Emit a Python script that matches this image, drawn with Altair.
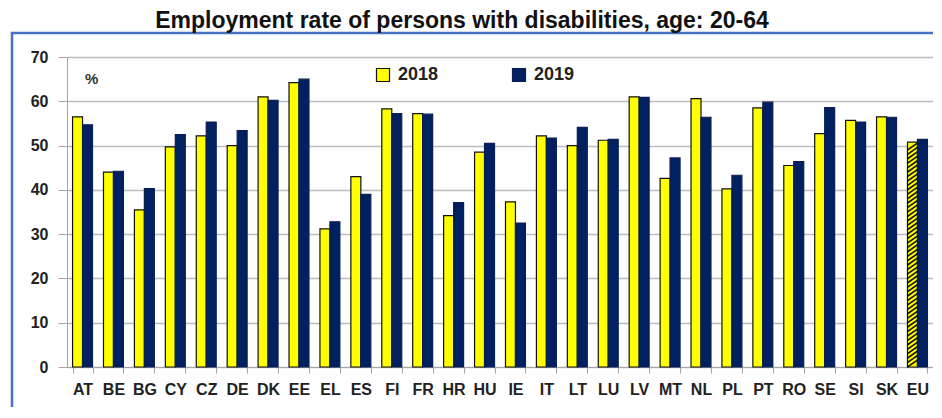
import altair as alt
import pandas as pd
import numpy as np

countries = ["AT", "BE", "BG", "CY", "CZ", "DE", "DK", "EE", "EL", "ES", "FI", "FR", "HR", "HU",
             "IE", "IT", "LT", "LU", "LV", "MT", "NL", "PL", "PT", "RO", "SE", "SI", "SK", "EU"]
v2018 = [56.5, 44.0, 35.5, 49.7, 52.2, 50.0, 61.0, 64.2, 31.2, 43.0, 58.3, 57.2, 34.2, 48.5,
         37.3, 52.2, 50.0, 51.2, 61.0, 42.6, 60.6, 40.2, 58.5, 45.5, 52.7, 55.7, 56.5, 50.8]
v2019 = [54.7, 44.2, 40.3, 52.5, 55.3, 53.4, 60.2, 65.0, 32.8, 39.0, 57.2, 57.1, 37.1, 50.5,
         32.5, 51.7, 54.1, 51.4, 60.9, 47.2, 56.4, 43.3, 59.8, 46.4, 58.6, 55.3, 56.4, 51.4]
years = ["2018", "2019"]
title_text = "Employment rate of persons with disabilities, age: 20-64"

rows = []
for c, a, b in zip(countries, v2018, v2019):
    rows.append({"Country": c, "Year": "2018", "Value": a})
    rows.append({"Country": c, "Year": "2019", "Value": b})
df = pd.DataFrame(rows)

# hatch strokes for the EU 2018 bar
eu18 = v2018[countries.index("EU")]
hatch = pd.DataFrame({"Country": "EU", "Year": "2018", "Value": np.arange(0.8, eu18 - 0.4, 1.0)})

W, H = 866, 310
FONT = "Liberation Sans"

x_enc = alt.X("Country:N", sort=countries,
              scale=alt.Scale(paddingInner=0.355, paddingOuter=0.18),
              axis=alt.Axis(title=None, labelAngle=0, tickBand="extent", tickSize=6,
                            tickColor="#a6a6a6", domainColor="#a6a6a6", labelFontSize=16,
                            labelFontWeight="bold", labelColor="#222222", labelPadding=8,
                            labelFont=FONT, grid=False))
xo_enc = alt.XOffset("Year:N", sort=years)
y_enc = alt.Y("Value:Q", scale=alt.Scale(domain=[0, 70], nice=False),
              axis=alt.Axis(title=None, values=list(range(0, 71, 10)), tickSize=9,
                            tickColor="#a6a6a6", domainColor="#a6a6a6", gridColor="#bdbdbd",
                            gridWidth=1.5, labelFontSize=16, labelFontWeight="bold",
                            labelColor="#222222", labelPadding=10, labelFont=FONT))

bars = alt.Chart(df).mark_bar(strokeWidth=1.2).encode(
    x=x_enc, xOffset=xo_enc, y=y_enc,
    color=alt.Color("Year:N", sort=years,
                    scale=alt.Scale(domain=years, range=["#ffff00", "#002060"]),
                    legend=alt.Legend(title=None, orient="none", legendX=307, legendY=9,
                                      direction="horizontal", symbolType="square",
                                      symbolSize=169, symbolStrokeColor="#111111",
                                      symbolStrokeWidth=1.2, symbolOpacity=1,
                                      labelFontSize=18, labelFontWeight="bold", labelFont=FONT,
                                      labelColor="#222222", labelOffset=6, columnPadding=71,
                                      padding=0)),
    stroke=alt.Stroke("Year:N", sort=years,
                      scale=alt.Scale(domain=years, range=["#111111", "#0a1f55"]),
                      legend=None),
)

hatch_layer = alt.Chart(hatch).mark_point(
    shape="M-1,0.7L1,-0.7", size=110, filled=False, stroke="#111111", strokeWidth=1.6, opacity=1
).encode(x=alt.X("Country:N", sort=countries), xOffset=xo_enc, y=alt.Y("Value:Q"))

border = alt.Chart(pd.DataFrame({"k": [0]})).mark_rect(
    fill="transparent", stroke="#4472c4", strokeWidth=2.5
).encode(x=alt.value(-55), x2=alt.value(W + 40), y=alt.value(-24), y2=alt.value(H + 60))

title = alt.Chart(pd.DataFrame({"t": [title_text]})).mark_text(
    font=FONT, fontSize=23, fontWeight="bold", color="#111111", align="center",
    baseline="alphabetic"
).encode(x=alt.value(395), y=alt.value(-29), text="t:N")

pct = alt.Chart(pd.DataFrame({"t": ["%"]})).mark_text(
    font=FONT, fontSize=15, fontWeight="bold", color="#333333", align="left",
    baseline="alphabetic"
).encode(x=alt.value(18), y=alt.value(27), text="t:N")

chart = alt.layer(border, bars, hatch_layer, pct, title).properties(
    width=W, height=H, autosize="none",
    padding={"left": 59, "top": 49, "right": 0, "bottom": 40},
).configure_view(fill="#f0f0f0", stroke="transparent").configure(background="white")

chart.save("out.html", embed_options={"renderer": "svg", "actions": False})
